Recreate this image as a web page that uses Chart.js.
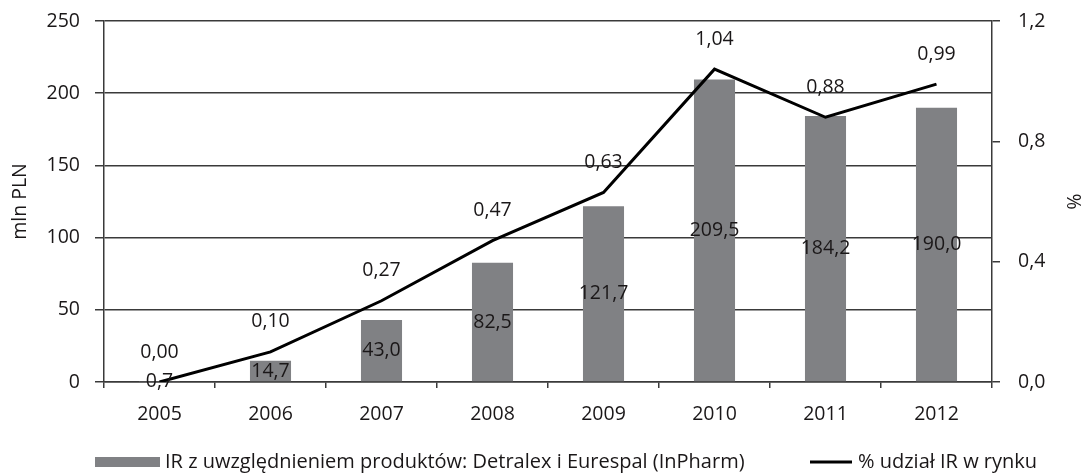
<!DOCTYPE html>
<html>
<head>
<meta charset="utf-8">
<script src="https://cdn.jsdelivr.net/npm/chart.js@4"></script>
<style>
  body { margin: 0; background: #fff; }
  #wrap { width: 1084px; height: 476px; }
</style>
</head>
<body>
<div id="wrap"><canvas id="chart" width="1084" height="476"></canvas></div>
<script>
// data
const years = ['2005', '2006', '2007', '2008', '2009', '2010', '2011', '2012'];
const salesValues = [0.7, 14.7, 43.0, 82.5, 121.7, 209.5, 184.2, 190.0];
const shareValues = [0.00, 0.10, 0.27, 0.47, 0.63, 1.04, 0.88, 0.99];
const leftTicks = [0, 50, 100, 150, 200, 250];
const rightTicks = [0, 0.4, 0.8, 1.2];

const barLabel = 'IR z uwzględnieniem produktów: Detralex i Eurespal (InPharm)';
const lineLabel = '% udział IR w rynku';

const FONT = '"Open Sans", sans-serif';
const SIZE = 19.5;
const textColor = '#1a1718';
const gridColor = '#3a3a3a';
const barColor = '#808184';

function comma(v, d) {
    return v.toFixed(d).replace('.', ',');
}

// value labels + custom legend
const labelsPlugin = {
    id: 'labels',
    afterDatasetsDraw(chart) {
        const ctx = chart.ctx;
        ctx.save();
        ctx.font = SIZE + 'px ' + FONT;
        ctx.fillStyle = textColor;
        ctx.textAlign = 'center';
        ctx.textBaseline = 'middle';

        // bar labels, centred in the bar
        chart.getDatasetMeta(1).data.forEach((bar, i) => {
            const mid = (bar.y + bar.base) / 2;
            ctx.fillText(comma(salesValues[i], 1), bar.x, mid);
        });

        // line labels above the points
        chart.getDatasetMeta(0).data.forEach((pt, i) => {
            ctx.fillText(comma(shareValues[i], 2), pt.x, pt.y - 30);
        });

        // legend
        const ly = 462;
        ctx.font = '20px ' + FONT;
        ctx.textAlign = 'left';
        ctx.fillStyle = barColor;
        ctx.fillRect(95, ly - 5, 65, 10);
        ctx.fillStyle = textColor;
        ctx.fillText(chart.data.datasets[1].label, 165, ly);

        ctx.strokeStyle = '#000';
        ctx.lineWidth = 3;
        ctx.beginPath();
        ctx.moveTo(810, ly);
        ctx.lineTo(852, ly);
        ctx.stroke();
        ctx.fillText(chart.data.datasets[0].label, 858, ly);
        ctx.restore();
    }
};

// fixed plot area edges
function fitVertical(width) {
    return function(scale) {
        scale.width = width;
        scale.paddingTop = 21;
        scale.paddingBottom = 0;
    };
}

const ctx = document.getElementById('chart').getContext('2d');
new Chart(ctx, {
    type: 'bar',
    data: {
        labels: years,
        datasets: [
            {
                type: 'line',
                label: lineLabel,
                data: shareValues,
                yAxisID: 'y1',
                borderColor: '#000',
                borderWidth: 3,
                pointRadius: 0,
                tension: 0,
                order: 0
            },
            {
                type: 'bar',
                label: barLabel,
                data: salesValues,
                yAxisID: 'y',
                backgroundColor: barColor,
                barPercentage: 0.37,
                categoryPercentage: 1,
                order: 1
            }
        ]
    },
    options: {
        responsive: false,
        animation: false,
        layout: { padding: 0 },
        plugins: {
            legend: { display: false },
            tooltip: { enabled: false }
        },
        scales: {
            x: {
                offset: true,
                grid: {
                    offset: true,
                    drawOnChartArea: false,
                    color: gridColor,
                    lineWidth: 1.5,
                    tickLength: 6
                },
                border: { color: gridColor, width: 1.5 },
                ticks: {
                    color: textColor,
                    font: { family: FONT, size: SIZE },
                    padding: 15,
                    maxRotation: 0
                },
                afterFit(scale) { scale.height = 94; }
            },
            y: {
                position: 'left',
                min: 0,
                max: 250,
                afterBuildTicks(scale) {
                    scale.ticks = leftTicks.map(v => ({ value: v }));
                },
                grid: {
                    color: gridColor,
                    lineWidth: 1.5,
                    tickLength: 9
                },
                border: { color: gridColor, width: 1.5 },
                ticks: {
                    color: textColor,
                    font: { family: FONT, size: SIZE },
                    padding: 15
                },
                title: {
                    display: true,
                    text: 'mln PLN',
                    color: textColor,
                    font: { family: FONT, size: SIZE },
                    padding: { top: 9, bottom: 0 }
                },
                afterFit: fitVertical(104)
            },
            y1: {
                position: 'right',
                min: 0,
                max: 1.2,
                afterBuildTicks(scale) {
                    scale.ticks = rightTicks.map(v => ({ value: v }));
                },
                grid: {
                    drawOnChartArea: false,
                    color: gridColor,
                    lineWidth: 1.5,
                    tickLength: 8
                },
                border: { color: gridColor, width: 1.5 },
                ticks: {
                    color: textColor,
                    font: { family: FONT, size: SIZE },
                    padding: 18,
                    callback: v => comma(v, 1)
                },
                title: {
                    display: true,
                    text: '%',
                    color: textColor,
                    font: { family: FONT, size: SIZE },
                    padding: { top: 0, bottom: 1 }
                },
                afterFit: fitVertical(92)
            }
        }
    },
    plugins: [labelsPlugin]
});
</script>
</body>
</html>
